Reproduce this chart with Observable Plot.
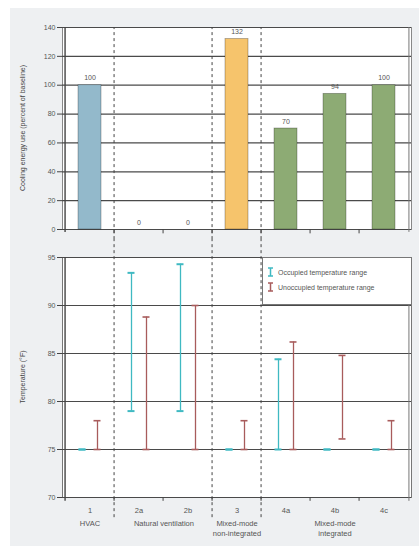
<!DOCTYPE html>
<html><head><meta charset="utf-8">
<script src="https://cdn.jsdelivr.net/npm/d3@7"></script>
<script src="https://cdn.jsdelivr.net/npm/@observablehq/plot@0.6"></script>
<style>
body{margin:0;background:#fff;font-family:"Liberation Sans",Arial,sans-serif;}
#wrap{position:absolute;left:10px;top:8px;width:409px;height:538px;background:#eef0f2;}
#topChart,#bottomChart{position:absolute;left:0;}
#topChart{top:0px}
#bottomChart{top:231px}
.ylab{position:absolute;font-size:7px;color:#444;white-space:nowrap;transform:translate(-50%,-50%) rotate(-90deg);}
#legend{position:absolute;left:252px;top:249px;width:148px;height:46px;background:#fff;border:1px solid #777;font-size:7px;color:#555;}
#legend .row{position:absolute;left:4px;display:flex;align-items:center;gap:4px;}
</style>
</head><body>
<div id="wrap">
  <div id="topChart"></div>
  <div id="bottomChart"></div>
  <div class="ylab" style="left:12px;top:120px">Cooling energy use (percent of baseline)</div>
  <div class="ylab" style="left:12px;top:369px">Temperature (°F)</div>
  <div id="legend">
    <div class="row" style="top:9px"><svg width="7" height="10"><path d="M1,1H6M3.5,1V9M1,9H6" stroke="#3fb9c2" stroke-width="1.5" fill="none"/></svg><span>Occupied temperature range</span></div>
    <div class="row" style="top:24px"><svg width="7" height="10"><path d="M1,1H6M3.5,1V9M1,9H6" stroke="#a85c5c" stroke-width="1.5" fill="none"/></svg><span>Unoccupied temperature range</span></div>
  </div>
</div>
<script>
const categories = ["1","2a","2b","3","4a","4b","4c"];
const groupOf = ["HVAC","Natural ventilation","Natural ventilation","Mixed-mode non-integrated","Mixed-mode integrated","Mixed-mode integrated","Mixed-mode integrated"];
const coolingEnergy = [100,0,0,132,70,94,100];
const occupiedLow  = [75,79,79,75,75,75,75];
const occupiedHigh = [75,93.4,94.3,75,84.4,75,75];
const unoccupiedLow  = [75,75,75,75,75,76.1,75];
const unoccupiedHigh = [78,88.8,90,78,86.2,84.8,78];
const energyTicks = [0,20,40,60,80,100,120,140];
const tempTicks = [70,75,80,85,90,95];
const groupNames = ["HVAC","Natural ventilation","Mixed-mode non-integrated","Mixed-mode integrated"];
const groupLabels = ["HVAC","Natural ventilation","Mixed-mode\nnon-integrated","Mixed-mode\nintegrated"];
const groupLabelCats = [["1"],["2a","2b"],["3"],["4b"]];
const separatorsAfter = ["1","2b","3"];
const rangeTypes = ["Occupied","Unoccupied"];

const W = 409, ML = 52, MR = 8;
const step = (W - ML - MR) / categories.length;
const xScale = {domain: categories, paddingInner: 0.54, paddingOuter: 0.27};
const font = {fontSize: "7px", fontFamily: "Liberation Sans, Arial, sans-serif", color: "#555", background: "transparent"};

const bars = categories.map((c,i) => ({cat: c, group: groupOf[i], value: coolingEnergy[i]}));
const sepCats = separatorsAfter.map(c => categories[categories.indexOf(c)+1]);
const boundaryCats = categories.slice(1);

const topPlot = Plot.plot({
  width: W, height: 231, marginLeft: ML, marginRight: MR, marginTop: 19, marginBottom: 10,
  style: font,
  x: {...xScale, axis: null},
  y: {domain: [0,140], ticks: energyTicks, axis: null, label: null},
  color: {domain: groupNames, range: ["#93b9cb","#93b9cb","#f6c46c","#8dab74"]},
  marks: [
    Plot.frame({fill: "white", stroke: "#888"}),
    Plot.gridY(energyTicks, {stroke: "#4a4a4a", strokeOpacity: 1, strokeWidth: 1.2}),
    Plot.barY(bars, {x: "cat", y: "value", fill: "group", stroke: "#00000055", strokeWidth: 0.8}),
    Plot.text(bars, {x: "cat", y: "value", text: d => String(d.value), dy: -7, fill: "#555", fontSize: 7}),
    Plot.ruleX(sepCats, {x: d => d, dx: -step/2, y1: -7, y2: 140, stroke: "#444", strokeDasharray: "3,3"}),
    Plot.ruleX(boundaryCats, {x: d => d, dx: -step/2, y1: 0, y2: -3, stroke: "#444"}),
    Plot.ruleX([categories[0]], {x: d => d, dx: -step/2, y1: -2, y2: 140, stroke: "#444", strokeWidth: 1.4}),
    Plot.ruleX([categories[categories.length-1]], {x: d => d, dx: step/2, y1: -2, y2: 140, stroke: "#777"}),
    Plot.axisY({ticks: energyTicks, label: null, tickSize: 5, tickPadding: 2, stroke: "#444", fill: "#555", fontSize: 7})
  ]
});
document.getElementById("topChart").appendChild(topPlot);

const ranges = [];
categories.forEach((c,i) => {
  ranges.push({cat: c, type: "Occupied", lo: occupiedLow[i], hi: occupiedHigh[i]});
  ranges.push({cat: c, type: "Unoccupied", lo: unoccupiedLow[i], hi: unoccupiedHigh[i]});
});
const occ = ranges.filter(d => d.type === "Occupied");
const unocc = ranges.filter(d => d.type === "Unoccupied");
const groupRows = groupLabels.map((l,i) => ({label: l, cats: groupLabelCats[i]}));

const bottomPlot = Plot.plot({
  width: W, height: 307, marginLeft: ML, marginRight: MR, marginTop: 18, marginBottom: 49,
  style: font,
  x: {...xScale, axis: null},
  y: {domain: [70,95], axis: null, label: null},
  color: {domain: rangeTypes, range: ["#3fb9c2","#a85c5c"]},
  marks: [
    Plot.frame({fill: "white", stroke: "#777"}),
    Plot.gridY(tempTicks, {stroke: "#4a4a4a", strokeOpacity: 1, strokeWidth: 1.2}),
    Plot.ruleX(sepCats, {x: d => d, dx: -step/2, y1: 67.9, y2: 97, stroke: "#444", strokeDasharray: "3,3"}),
    Plot.ruleX(boundaryCats, {x: d => d, dx: -step/2, y1: 70, y2: 69.6, stroke: "#444"}),
    Plot.ruleX([categories[0]], {x: d => d, dx: -step/2, y1: 69.6, y2: 95, stroke: "#444", strokeWidth: 1.4}),
    Plot.ruleX([categories[categories.length-1]], {x: d => d, dx: step/2, y1: 69.6, y2: 95, stroke: "#777"}),
    Plot.ruleX(occ, {x: "cat", y1: "lo", y2: "hi", stroke: "type", dx: -7.5, strokeWidth: 1.3}),
    Plot.ruleX(unocc, {x: "cat", y1: "lo", y2: "hi", stroke: "type", dx: 7.5, strokeWidth: 1.3}),
    Plot.tickY(occ, {x: "cat", y: "lo", stroke: "type", insetLeft: 0.5, insetRight: 15.5, strokeWidth: 2}),
    Plot.tickY(occ, {x: "cat", y: "hi", stroke: "type", insetLeft: 0.5, insetRight: 15.5, strokeWidth: 2}),
    Plot.tickY(unocc, {x: "cat", y: "lo", stroke: "type", insetLeft: 15.5, insetRight: 0.5, strokeWidth: 1.6}),
    Plot.tickY(unocc, {x: "cat", y: "hi", stroke: "type", insetLeft: 15.5, insetRight: 0.5, strokeWidth: 1.6}),
    Plot.axisY({ticks: tempTicks, label: null, tickSize: 5, tickPadding: 2, stroke: "#444", fill: "#555", fontSize: 7}),
    Plot.text(categories, {x: d => d, y: 70, dy: 13, text: d => d, fill: "#555", fontSize: 7.5}),
    ...groupRows.map(g => Plot.text([g], {x: d => d.cats[0], y: 70, dx: (g.cats.length-1)*step/2, dy: 22, lineAnchor: "top", lineHeight: 1.3, text: "label", fill: "#555", fontSize: 7.5}))
  ]
});
document.getElementById("bottomChart").appendChild(bottomPlot);
</script>
</body></html>
